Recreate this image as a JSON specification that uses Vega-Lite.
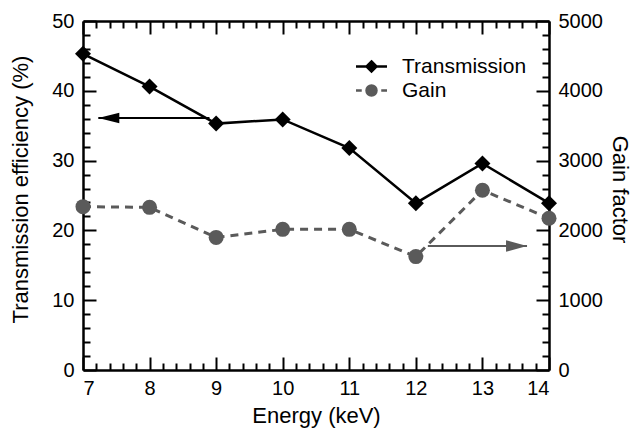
{
  "$schema": "https://vega.github.io/schema/vega-lite/v6.json",
  "width": 466,
  "height": 349,
  "autosize": "none",
  "padding": {"left": 83, "top": 21, "right": 84, "bottom": 61},
  "background": "white",
  "config": {
    "view": {"stroke": null},
    "font": "Liberation Sans",
    "axis": {
      "grid": false,
      "labelFont": "Liberation Sans",
      "titleFont": "Liberation Sans",
      "labelFontSize": 20,
      "titleFontSize": 22,
      "titleFontWeight": "normal",
      "labelColor": "black",
      "titleColor": "black",
      "tickColor": "black",
      "tickWidth": 2,
      "domainColor": "black",
      "domainWidth": 2.5
    }
  },
  "datasets": {
    "series": [
      {"energy": 7, "series": "Transmission", "value": 45.3},
      {"energy": 8, "series": "Transmission", "value": 40.6},
      {"energy": 9, "series": "Transmission", "value": 35.3},
      {"energy": 10, "series": "Transmission", "value": 35.9},
      {"energy": 11, "series": "Transmission", "value": 31.8},
      {"energy": 12, "series": "Transmission", "value": 23.9},
      {"energy": 13, "series": "Transmission", "value": 29.6},
      {"energy": 14, "series": "Transmission", "value": 23.9},
      {"energy": 7, "series": "Gain", "value": 2340},
      {"energy": 8, "series": "Gain", "value": 2330},
      {"energy": 9, "series": "Gain", "value": 1900},
      {"energy": 10, "series": "Gain", "value": 2015},
      {"energy": 11, "series": "Gain", "value": 2015},
      {"energy": 12, "series": "Gain", "value": 1625},
      {"energy": 13, "series": "Gain", "value": 2575},
      {"energy": 14, "series": "Gain", "value": 2175}
    ],
    "arrows": [
      {"side": "left", "from": 8.9, "to": 7.23, "level": 36.1},
      {"side": "right", "from": 12.18, "to": 13.67, "level": 1777}
    ]
  },
  "data": {"name": "series"},
  "layer": [
    {
      "transform": [{"filter": "datum.series === 'Transmission'"}],
      "mark": {"type": "line", "color": "black", "strokeWidth": 2.5},
      "encoding": {
        "x": {"field": "energy", "type": "quantitative",
          "scale": {"domain": [7, 14], "nice": false, "zero": false},
          "axis": {"orient": "bottom", "values": [7, 8, 9, 10, 11, 12, 13, 14], "ticks": false,
            "labelPadding": 8, "title": "Energy (keV)", "titlePadding": 7}},
        "y": {"field": "value", "type": "quantitative",
          "scale": {"domain": [0, 50], "nice": false},
          "axis": {"orient": "left", "values": [0, 10, 20, 30, 40, 50], "ticks": false,
            "labelPadding": 9, "title": "Transmission efficiency (%)", "titlePadding": 19, "titleY": 168}}
      }
    },
    {
      "transform": [{"filter": "datum.series === 'Transmission'"}],
      "mark": {"type": "point", "shape": "diamond", "filled": true, "color": "black", "opacity": 1, "size": 256},
      "encoding": {
        "x": {"field": "energy", "type": "quantitative", "scale": {"domain": [7, 14], "nice": false, "zero": false}, "axis": null},
        "y": {"field": "value", "type": "quantitative", "scale": {"domain": [0, 50], "nice": false}, "axis": null}
      }
    },
    {
      "transform": [{"filter": "datum.series === 'Gain'"}],
      "mark": {"type": "line", "color": "#5a5a5a", "strokeWidth": 3, "strokeDash": [8, 6]},
      "encoding": {
        "x": {"field": "energy", "type": "quantitative",
          "scale": {"domain": [7, 14], "nice": false, "zero": false},
          "axis": {"orient": "top", "values": [7, 14], "ticks": false, "labels": false, "title": null}},
        "y": {"field": "value", "type": "quantitative",
          "scale": {"domain": [0, 5000], "nice": false},
          "axis": {"orient": "right", "values": [0, 1000, 2000, 3000, 4000, 5000], "format": "d", "ticks": false,
            "labelPadding": 9, "title": "Gain factor", "titlePadding": 5, "titleY": 168}}
      }
    },
    {
      "transform": [{"filter": "datum.series === 'Gain'"}],
      "mark": {"type": "point", "shape": "circle", "filled": true, "color": "#5a5a5a", "opacity": 1, "size": 225},
      "encoding": {
        "x": {"field": "energy", "type": "quantitative", "scale": {"domain": [7, 14], "nice": false, "zero": false}, "axis": null},
        "y": {"field": "value", "type": "quantitative", "scale": {"domain": [0, 5000], "nice": false}, "axis": null}
      }
    },
    {
      "transform": [{"filter": "false"}],
      "mark": {"type": "point"},
      "encoding": {
        "x": {"field": "energy", "type": "quantitative",
          "scale": {"domain": [7, 14], "nice": false, "zero": false},
          "axis": {"orient": "bottom", "domain": false, "labels": false, "title": null, "tickSize": 13, "offset": -13,
            "values": [7, 8, 9, 10, 11, 12, 13, 14]}},
        "y": {"field": "value", "type": "quantitative",
          "scale": {"domain": [0, 50], "nice": false},
          "axis": {"orient": "left", "domain": false, "labels": false, "title": null, "tickSize": 13, "offset": -13,
            "values": [0, 10, 20, 30, 40, 50]}}
      }
    },
    {
      "transform": [{"filter": "false"}],
      "mark": {"type": "point"},
      "encoding": {
        "x": {"field": "energy", "type": "quantitative",
          "scale": {"domain": [7, 14], "nice": false, "zero": false},
          "axis": {"orient": "bottom", "domain": false, "labels": false, "title": null, "tickSize": 7, "offset": -7,
            "values": [7.2, 7.4, 7.6, 7.8, 8.2, 8.4, 8.6, 8.8, 9.2, 9.4, 9.6, 9.8, 10.2, 10.4, 10.6, 10.8, 11.2, 11.4, 11.6, 11.8, 12.2, 12.4, 12.6, 12.8, 13.2, 13.4, 13.6, 13.8]}},
        "y": {"field": "value", "type": "quantitative",
          "scale": {"domain": [0, 50], "nice": false},
          "axis": {"orient": "left", "domain": false, "labels": false, "title": null, "tickSize": 7, "offset": -7,
            "values": [2, 4, 6, 8, 12, 14, 16, 18, 22, 24, 26, 28, 32, 34, 36, 38, 42, 44, 46, 48]}}
      }
    },
    {
      "transform": [{"filter": "false"}],
      "mark": {"type": "point"},
      "encoding": {
        "x": {"field": "energy", "type": "quantitative",
          "scale": {"domain": [7, 14], "nice": false, "zero": false},
          "axis": {"orient": "top", "domain": false, "labels": false, "title": null, "tickSize": 13, "offset": -13,
            "values": [7, 8, 9, 10, 11, 12, 13, 14]}},
        "y": {"field": "value", "type": "quantitative",
          "scale": {"domain": [0, 5000], "nice": false},
          "axis": {"orient": "right", "domain": false, "labels": false, "title": null, "tickSize": 13, "offset": -13,
            "values": [0, 1000, 2000, 3000, 4000, 5000]}}
      }
    },
    {
      "transform": [{"filter": "false"}],
      "mark": {"type": "point"},
      "encoding": {
        "x": {"field": "energy", "type": "quantitative",
          "scale": {"domain": [7, 14], "nice": false, "zero": false},
          "axis": {"orient": "top", "domain": false, "labels": false, "title": null, "tickSize": 7, "offset": -7,
            "values": [7.2, 7.4, 7.6, 7.8, 8.2, 8.4, 8.6, 8.8, 9.2, 9.4, 9.6, 9.8, 10.2, 10.4, 10.6, 10.8, 11.2, 11.4, 11.6, 11.8, 12.2, 12.4, 12.6, 12.8, 13.2, 13.4, 13.6, 13.8]}},
        "y": {"field": "value", "type": "quantitative",
          "scale": {"domain": [0, 5000], "nice": false},
          "axis": {"orient": "right", "domain": false, "labels": false, "title": null, "tickSize": 7, "offset": -7,
            "values": [200, 400, 600, 800, 1200, 1400, 1600, 1800, 2200, 2400, 2600, 2800, 3200, 3400, 3600, 3800, 4200, 4400, 4600, 4800]}}
      }
    },
    {
      "data": {"name": "arrows"},
      "transform": [{"filter": "datum.side === 'left'"}],
      "layer": [
        {
          "mark": {"type": "rule", "color": "black", "strokeWidth": 2},
          "encoding": {
            "x": {"field": "from", "type": "quantitative", "scale": {"domain": [7, 14], "nice": false, "zero": false}, "axis": null},
            "x2": {"field": "to"},
            "y": {"field": "level", "type": "quantitative", "scale": {"domain": [0, 50], "nice": false}, "axis": null}
          }
        },
        {
          "mark": {"type": "point", "shape": "M0,0L2,-0.5L2,0.5Z", "filled": true, "color": "black", "opacity": 1, "size": 441},
          "encoding": {
            "x": {"field": "to", "type": "quantitative", "scale": {"domain": [7, 14], "nice": false, "zero": false}, "axis": null},
            "y": {"field": "level", "type": "quantitative", "scale": {"domain": [0, 50], "nice": false}, "axis": null}
          }
        }
      ]
    },
    {
      "data": {"name": "arrows"},
      "transform": [{"filter": "datum.side === 'right'"}],
      "layer": [
        {
          "mark": {"type": "rule", "color": "#5a5a5a", "strokeWidth": 2},
          "encoding": {
            "x": {"field": "from", "type": "quantitative", "scale": {"domain": [7, 14], "nice": false, "zero": false}, "axis": null},
            "x2": {"field": "to"},
            "y": {"field": "level", "type": "quantitative", "scale": {"domain": [0, 5000], "nice": false}, "axis": null}
          }
        },
        {
          "mark": {"type": "point", "shape": "M0,0L-2,-0.55L-2,0.55Z", "filled": true, "color": "#5a5a5a", "opacity": 1, "size": 441},
          "encoding": {
            "x": {"field": "to", "type": "quantitative", "scale": {"domain": [7, 14], "nice": false, "zero": false}, "axis": null},
            "y": {"field": "level", "type": "quantitative", "scale": {"domain": [0, 5000], "nice": false}, "axis": null}
          }
        }
      ]
    },
    {
      "transform": [{"filter": "false"}],
      "mark": {"type": "point", "filled": true, "opacity": 1, "size": 144},
      "encoding": {
        "x": {"field": "energy", "type": "quantitative", "scale": {"domain": [7, 14], "nice": false, "zero": false}, "axis": null},
        "y": {"field": "value", "type": "quantitative", "scale": {"domain": [0, 50], "nice": false}, "axis": null},
        "color": {"field": "series", "type": "nominal",
          "scale": {"domain": ["Transmission", "Gain"], "range": ["black", "#5a5a5a"]},
          "legend": {"orient": "none", "legendX": 278, "legendY": 35, "title": null,
            "labelFont": "Liberation Sans", "labelFontSize": 21, "labelColor": "black",
            "symbolStrokeWidth": 2.5, "labelOffset": 20, "rowPadding": 2}},
        "stroke": {"field": "series", "type": "nominal",
          "scale": {"domain": ["Transmission", "Gain"], "range": ["black", "#5a5a5a"]}},
        "shape": {"field": "series", "type": "nominal",
          "scale": {"domain": ["Transmission", "Gain"],
            "range": ["M-3.1,0L3.1,0M0,-1L1,0L0,1L-1,0Z",
                      "M-3.1,0L-1.95,0M1.95,0L3.1,0M-1,0A1,1,0,1,1,1,0A1,1,0,1,1,-1,0Z"]}}
      }
    }
  ],
  "resolve": {
    "scale": {"x": "independent", "y": "independent", "color": "shared", "shape": "shared", "stroke": "shared"},
    "axis": {"x": "independent", "y": "independent"}
  }
}
